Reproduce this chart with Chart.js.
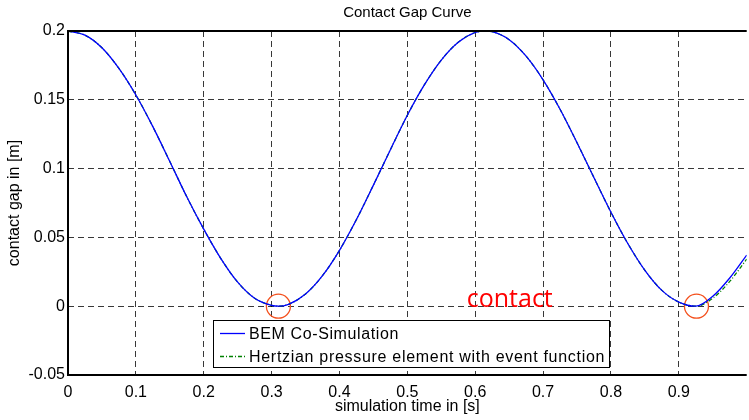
<!DOCTYPE html>
<html>
<head>
<meta charset="utf-8">
<title>Contact Gap Curve</title>
<script src="https://cdn.jsdelivr.net/npm/chart.js@4/dist/chart.umd.min.js"></script>
<style>
    html, body { margin: 0; padding: 0; background: #fff; overflow: hidden; }
    #chartCanvas { display: block; }
</style>
</head>
<body>
<canvas id="chartCanvas" width="760" height="420"></canvas>
<script>
// values
const timeS = [0, 0.025, 0.05, 0.075, 0.1, 0.125, 0.15, 0.175, 0.2, 0.225, 0.25, 0.275, 0.3, 0.31,
    0.325, 0.35, 0.375, 0.4, 0.425, 0.45, 0.475, 0.5, 0.525, 0.55, 0.575, 0.6, 0.615,
    0.625, 0.65, 0.675, 0.7, 0.725, 0.75, 0.775, 0.8, 0.825, 0.85, 0.875, 0.9, 0.925, 0.95, 0.975, 1.0];
const bemGap = [0.2, 0.197, 0.1878, 0.1728, 0.1535, 0.1305, 0.1052, 0.0795, 0.056, 0.0348, 0.0175, 0.0058, 0.0006, 0,
    0.0014, 0.0089, 0.0222, 0.0406, 0.063, 0.088, 0.1137, 0.1388, 0.1608, 0.1789, 0.1918, 0.1989, 0.2,
    0.1995, 0.1937, 0.1817, 0.1645, 0.1431, 0.1188, 0.0934, 0.0683, 0.0454, 0.0261, 0.0115, 0.003, 0, 0.0072, 0.0205, 0.0372];
const hertzGap = [0.2, 0.197, 0.1878, 0.1728, 0.1535, 0.1305, 0.1052, 0.0795, 0.056, 0.0348, 0.0175, 0.0058, 0.0006, 0,
    0.0014, 0.0089, 0.0222, 0.0406, 0.063, 0.088, 0.1137, 0.1388, 0.1608, 0.1789, 0.1918, 0.1989, 0.2,
    0.1995, 0.1937, 0.1817, 0.1645, 0.1431, 0.1188, 0.0934, 0.0683, 0.0454, 0.0261, 0.0115, 0.003, 0, 0.0058, 0.018, 0.0342];
const contactX = [0.31, 0.926];
const contactY = [0, 0];
const xTickLabels = ['0', '0.1', '0.2', '0.3', '0.4', '0.5', '0.6', '0.7', '0.8', '0.9'];
const yTickLabels = ['-0.05', '0', '0.05', '0.1', '0.15', '0.2'];
const seriesNames = ['BEM Co-Simulation', 'Hertzian pressure element with event function'];

const FONT = "'Liberation Sans', Arial, Helvetica, sans-serif";

function toPoints(xs, ys) {
    return xs.map((x, i) => ({ x: x, y: ys[i] }));
}

// axes box, legend and the "contact" note
const extrasPlugin = {
    id: 'extras',
    afterDraw(chart) {
        const ctx = chart.ctx;
        const area = chart.chartArea;
        const xs = chart.scales.x;
        const ys = chart.scales.y;
        ctx.save();

        ctx.strokeStyle = '#000';
        ctx.lineWidth = 2;
        ctx.beginPath();
        ctx.moveTo(area.right, area.top);
        ctx.lineTo(area.left, area.top);
        ctx.lineTo(area.left, area.bottom);
        ctx.lineTo(area.right, area.bottom);
        ctx.stroke();

        ctx.fillStyle = '#ff0000';
        ctx.font = "25px 'Open Sans', sans-serif";
        ctx.textAlign = 'left';
        ctx.textBaseline = 'alphabetic';
        ctx.fillText('contact', xs.getPixelForValue(0.5875), ys.getPixelForValue(0) + 1);

        // legend box
        const bx = 213.5, by = 320.5, bw = 396, bh = 47;
        ctx.fillStyle = '#fff';
        ctx.fillRect(bx, by, bw, bh);
        ctx.strokeStyle = '#000';
        ctx.lineWidth = 1;
        ctx.strokeRect(bx, by, bw, bh);
        ctx.font = '16px ' + FONT;
        ctx.textBaseline = 'middle';
        const rows = [333.5, 356.5];
        const textEnds = [399, 605];
        [0, 1].forEach(i => {
            const ds = chart.data.datasets[i];
            ctx.strokeStyle = ds.borderColor;
            ctx.lineWidth = ds.borderWidth;
            ctx.setLineDash(ds.borderDash || []);
            ctx.beginPath();
            ctx.moveTo(220, rows[i]);
            ctx.lineTo(245, rows[i]);
            ctx.stroke();
            ctx.setLineDash([]);
            ctx.fillStyle = '#000';
            ctx.letterSpacing = '0px';
            const w = ctx.measureText(ds.label).width;
            const extra = Math.max(0, (textEnds[i] - 249 - w) / ds.label.length);
            ctx.letterSpacing = extra.toFixed(2) + 'px';
            ctx.fillText(ds.label, 249, rows[i] + 1);
        });
        ctx.letterSpacing = '0px';
        ctx.restore();
    }
};

document.addEventListener('DOMContentLoaded', function() {
    const ctx = document.getElementById('chartCanvas').getContext('2d');

    new Chart(ctx, {
        type: 'line',
        data: {
            datasets: [{
                label: seriesNames[0],
                data: toPoints(timeS, bemGap),
                borderColor: '#0000ff',
                borderWidth: 1.3,
                pointRadius: 0,
                cubicInterpolationMode: 'monotone',
                fill: false
            }, {
                label: seriesNames[1],
                data: toPoints(timeS, hertzGap),
                borderColor: '#008000',
                borderWidth: 1.3,
                borderDash: [4, 2, 1, 2],
                pointRadius: 0,
                cubicInterpolationMode: 'monotone',
                fill: false
            }, {
                label: 'contact',
                data: toPoints(contactX, contactY),
                showLine: false,
                pointRadius: 12,
                pointBorderWidth: 1.3,
                pointBorderColor: '#f4511e',
                pointBackgroundColor: 'rgba(0,0,0,0)'
            }]
        },
        options: {
            responsive: false,
            animation: false,
            devicePixelRatio: 1,
            layout: { padding: { left: 0, right: 8, top: 0, bottom: 0 } },
            plugins: {
                legend: { display: false },
                tooltip: { enabled: false },
                title: {
                    display: true,
                    text: 'Contact Gap Curve',
                    fullSize: false,
                    color: '#000',
                    font: { family: FONT, size: 15, weight: 'normal' },
                    padding: { top: 4, bottom: 9 }
                }
            },
            scales: {
                x: {
                    type: 'linear',
                    min: 0,
                    max: 1,
                    afterFit: s => { s.height = 45; s.paddingLeft = 0; s.paddingRight = 0; },
                    border: { display: false, dash: [6, 4] },
                    grid: { color: 'rgba(0,0,0,0.78)', lineWidth: 1, drawTicks: false },
                    ticks: {
                        stepSize: 0.1,
                        autoSkip: false,
                        maxRotation: 0,
                        padding: 8,
                        color: '#000',
                        font: { family: FONT, size: 16 },
                        callback: (v, i) => xTickLabels[i]
                    },
                    title: {
                        display: true,
                        text: 'simulation time in [s]',
                        color: '#000',
                        font: { family: FONT, size: 16 },
                        padding: { top: 0, bottom: 4 }
                    }
                },
                y: {
                    min: -0.05,
                    max: 0.2,
                    afterFit: s => { s.width = 68; },
                    border: { display: false, dash: [6, 4] },
                    grid: { color: 'rgba(0,0,0,0.78)', lineWidth: 1, drawTicks: false },
                    ticks: {
                        stepSize: 0.05,
                        padding: 3,
                        color: '#000',
                        font: { family: FONT, size: 16 },
                        callback: (v, i) => yTickLabels[i]
                    },
                    title: {
                        display: true,
                        text: 'contact gap in [m]',
                        color: '#000',
                        font: { family: FONT, size: 16 },
                        padding: { top: 5, bottom: 0 }
                    }
                }
            }
        },
        plugins: [extrasPlugin]
    });
});
</script>
</body>
</html>
